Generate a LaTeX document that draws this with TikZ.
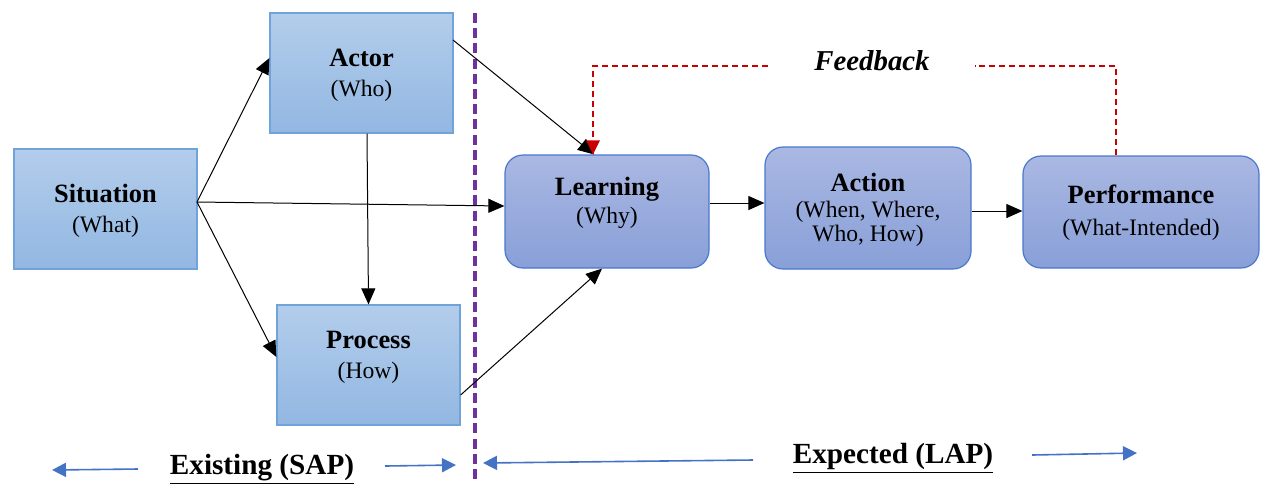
\documentclass[tikz,border=0pt]{standalone}
\usepackage{fontspec}
\setmainfont{Liberation Serif}
\usetikzlibrary{arrows.meta}
\definecolor{sqtop}{HTML}{B3CDEB}
\definecolor{sqbot}{HTML}{92B7E2}
\definecolor{sqedge}{HTML}{6FA3DA}
\definecolor{rdtop}{HTML}{AAB8E2}
\definecolor{rdbot}{HTML}{889FD8}
\definecolor{rdedge}{HTML}{4A78CC}
\definecolor{fbred}{HTML}{C80000}
\definecolor{divpurple}{HTML}{7030A0}
\definecolor{bluearr}{HTML}{4472C4}
\newcommand{\boxttl}{\fontsize{13.2}{16}\selectfont\bfseries}
\newcommand{\boxsubt}{\fontsize{11.8}{15}\selectfont\mdseries}
\tikzset{
  sqbox/.style={draw=sqedge, line width=0.6pt, top color=sqtop, bottom color=sqbot, inner sep=0pt, align=center},
  rdbox/.style={draw=rdedge, line width=0.6pt, top color=rdtop, bottom color=rdbot, rounded corners=9pt, inner sep=0pt, align=center},
  conn/.style={-{Triangle[length=8pt,width=7pt]}, line width=0.5pt, black},
  fb/.style={fbred, dash pattern=on 3pt off 2pt, line width=0.6pt},
  barr/.style={line width=0.8pt, bluearr, -{Triangle[length=7pt,width=7pt]}},
  lbl/.style={font=\fontsize{14.6}{17}\selectfont\bfseries},
}
\begin{document}
\begin{tikzpicture}[x=0.5pt,y=-0.5pt]
\useasboundingbox (0,0) rectangle (1264,484);
% boxes
\node[sqbox, minimum width=91.5pt, minimum height=60pt] (sit) at (105.5,209) {};
\node[align=center] (sitt) at (105.5,211) {\boxttl Situation\\[3pt]\boxsubt (What)};
\node[sqbox, minimum width=91.5pt, minimum height=60pt] (act) at (361.5,73) {};
\node[align=center] (actt) at (361.5,75) {\boxttl Actor\\[3pt]\boxsubt (Who)};
\node[sqbox, minimum width=91.5pt, minimum height=60pt] (pro) at (368.5,365) {};
\node[align=center] (prot) at (368.5,357) {\boxttl Process\\[3pt]\boxsubt (How)};
\node[rdbox, minimum width=102pt, minimum height=56.5pt] (lea) at (607,211.5) {};
\node[align=center] (leat) at (607,203) {\boxttl Learning\\[2pt]\boxsubt (Why)};
\node[rdbox, minimum width=103pt, minimum height=61pt] (acn) at (868,208) {};
\node[align=center] (acnt) at (868,210) {\boxttl Action\\[1pt]\boxsubt (When, Where,\\\boxsubt Who, How)};
\node[rdbox, minimum width=118pt, minimum height=56pt] (per) at (1141,212) {};
\node[align=center] (pert) at (1141,213) {\boxttl Performance\\[4pt]\boxsubt (What-Intended)};
% divider
\coordinate (dt) at (475,13);
\coordinate (db) at (475,484);
\draw[divpurple, line width=1.6pt, dash pattern=on 5pt off 2.6pt] (dt) -- (db);
% connectors
\coordinate (s0) at (197,202);
\draw[conn] (s0) -- (act.west |- 0,58);
\draw[conn] (s0) -- (lea.west |- 0,206);
\draw[conn] (s0) -- (pro.west |- 0,357);
\draw[conn] (act.south -| 367,0) -- (pro.north);
\draw[conn] (453,40) -- (lea.north -| 594,0);
\draw[conn] (pro.east |- 0,395) -- (lea.south -| 602,0);
\draw[conn] (lea.east |- 0,203) -- (acn.west |- 0,203);
\draw[conn] (acn.east |- 0,211) -- (per.west |- 0,211);
% feedback
\node[font=\fontsize{14.4}{17}\selectfont\bfseries\itshape] (fbt) at (872,61) {Feedback};
\draw[fb] (per.north -| 1116,0) -- (1116,66) -- (975,66);
\draw[fb] (768,66) -- (593,66) -- (lea.north -| 593,0);
\fill[fbred] (lea.north -| 586,0) ++(0,-14) -- ++(14,0) -- (lea.north -| 593,0) -- cycle;
% bottom labels
\node[lbl] (ex) at (262,469.5) {\underline{Existing (SAP)}};
\node[lbl] (xp) at (893,458) {\underline{Expected (LAP)}};
\coordinate (a1s) at (138,469); \coordinate (a1e) at (52,470);
\coordinate (a2s) at (385,466); \coordinate (a2e) at (456,465);
\coordinate (a3s) at (753,460); \coordinate (a3e) at (483,463);
\coordinate (a4s) at (1032,455); \coordinate (a4e) at (1137,453);
\draw[barr] (a1s) -- (a1e);
\draw[barr] (a2s) -- (a2e);
\draw[barr] (a3s) -- (a3e);
\draw[barr] (a4s) -- (a4e);
\end{tikzpicture}
\end{document}
